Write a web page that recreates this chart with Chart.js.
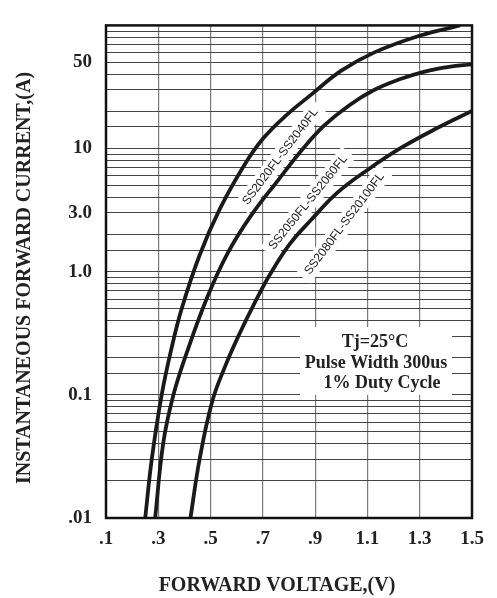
<!DOCTYPE html>
<html>
<head>
<meta charset="utf-8">
<script src="https://cdn.jsdelivr.net/npm/chart.js@4.4.1/dist/chart.umd.min.js"></script>
<style>
  html, body { margin: 0; padding: 0; background: #fff; }
  #wrap { width: 497px; height: 598px; }
</style>
</head>
<body>
<div id="wrap"><canvas id="chartCanvas"></canvas></div>
<script>
// axis ticks
const xTicks = [0.1, 0.3, 0.5, 0.7, 0.9, 1.1, 1.3, 1.5];
const xTickLabels = [".1", ".3", ".5", ".7", ".9", "1.1", "1.3", "1.5"];
const yTicks = [0.01, 0.1, 1, 3, 10, 50];
const yTickLabels = [".01", "0.1", "1.0", "3.0", "10", "50"];

// curves (V, A)
const v2040 = [0.250, 0.275, 0.313, 0.352, 0.390, 0.458, 0.535, 0.627, 0.700, 0.788, 0.885, 1.000, 1.127, 1.296, 1.454];
const i2040 = [0.01, 0.030, 0.1, 0.246, 0.505, 1.36, 3.22, 7.23, 12.0, 18.5, 27.4, 42.9, 60.4, 82.0, 100];

const v2060 = [0.288, 0.319, 0.358, 0.408, 0.485, 0.565, 0.654, 0.758, 0.854, 0.935, 1.031, 1.127, 1.223, 1.319, 1.412, 1.500];
const i2060 = [0.01, 0.0406, 0.1, 0.217, 0.604, 1.41, 2.84, 5.52, 10.0, 15.4, 22.5, 30.0, 36.5, 42.2, 46.1, 48.3];

const v20100 = [0.423, 0.458, 0.506, 0.556, 0.608, 0.662, 0.727, 0.804, 0.885, 0.985, 1.096, 1.231, 1.365, 1.500];
const i20100 = [0.01, 0.030, 0.088, 0.171, 0.305, 0.523, 0.948, 1.69, 2.64, 4.38, 6.61, 10.2, 14.6, 20.2];

const seriesNames = ["SS2020FL-SS2040FL", "SS2050FL-SS2060FL", "SS2080FL-SS20100FL"];
const noteLines = ["Tj=25°C", "Pulse Width 300us", "1% Duty Cycle"];
const xTitle = "FORWARD VOLTAGE,(V)";
const yTitle = "INSTANTANEOUS FORWARD CURRENT,(A)";

const toPoints = (xs, ys) => xs.map((x, i) => ({ x: x, y: ys[i] }));

// where the curve names sit, in data units
const nameSpots = [
  { x: 0.767, y: 8.6, angle: -53 },
  { x: 0.873, y: 3.65, angle: -51 },
  { x: 1.012, y: 2.45, angle: -53 }
];

const overlay = {
  id: "overlay",
  beforeDatasetsDraw(chart) {
    const { ctx, scales: { x, y } } = chart;
    ctx.save();
    // curve names
    ctx.font = "12px 'Liberation Sans', Arial, sans-serif";
    ctx.textAlign = "center";
    ctx.textBaseline = "middle";
    seriesNames.forEach((name, i) => {
      const s = nameSpots[i];
      const w = ctx.measureText(name).width;
      ctx.save();
      ctx.translate(x.getPixelForValue(s.x), y.getPixelForValue(s.y));
      ctx.rotate(s.angle * Math.PI / 180);
      ctx.fillStyle = "#fff";
      ctx.fillRect(-w / 2 - 6, -9, w + 12, 18);
      ctx.fillStyle = "#222";
      ctx.fillText(name, 0, 0);
      ctx.restore();
    });
    // conditions box
    ctx.fillStyle = "#fff";
    ctx.fillRect(300, 327, 152, 68);
    ctx.fillStyle = "#222";
    ctx.font = "bold 18px 'Liberation Serif', 'Times New Roman', serif";
    ctx.textBaseline = "alphabetic";
    ctx.fillText(noteLines[0], 375, 347);
    ctx.fillText(noteLines[1], 376, 368);
    ctx.fillText(noteLines[2], 382, 388);
    ctx.restore();
  },
  afterDatasetsDraw(chart) {
    const { ctx, chartArea: a } = chart;
    ctx.save();
    ctx.strokeStyle = "#111";
    ctx.lineWidth = 2.5;
    ctx.strokeRect(a.left, a.top, a.right - a.left, a.bottom - a.top);
    ctx.restore();
  },
  afterDraw(chart) {
    const { ctx } = chart;
    ctx.save();
    ctx.fillStyle = "#222";
    ctx.font = "bold 20px 'Liberation Serif', 'Times New Roman', serif";
    ctx.textAlign = "center";
    ctx.textBaseline = "alphabetic";
    ctx.fillText(xTitle, 277, 591);
    ctx.translate(30, 278);
    ctx.rotate(-Math.PI / 2);
    ctx.fillText(yTitle, 0, 0);
    ctx.restore();
  }
};

const lineStyle = {
  borderColor: "#1a1a1a",
  borderWidth: 3.8,
  pointRadius: 0,
  fill: false,
  tension: 0.4
};

const ctx = document.getElementById("chartCanvas").getContext("2d");
const chartInstance = new Chart(ctx, {
  type: "line",
  data: {
    datasets: [
      Object.assign({ label: seriesNames[0], data: toPoints(v2040, i2040) }, lineStyle),
      Object.assign({ label: seriesNames[1], data: toPoints(v2060, i2060) }, lineStyle),
      Object.assign({ label: seriesNames[2], data: toPoints(v20100, i20100) }, lineStyle)
    ]
  },
  options: {
    responsive: true,
    maintainAspectRatio: false,
    animation: false,
    layout: { padding: { top: 6, right: 25, left: 0, bottom: 0 } },
    plugins: { legend: { display: false }, tooltip: { enabled: false } },
    scales: {
      x: {
        type: "linear",
        min: 0.1,
        max: 1.5,
        afterBuildTicks: (s) => { s.ticks = xTicks.map(v => ({ value: v })); },
        afterFit: (s) => { s.height = 80; },
        grid: { color: "#7a7a7a", lineWidth: 1.2, drawTicks: false },
        border: { display: false },
        ticks: {
          padding: 10,
          color: "#222",
          maxRotation: 0,
          autoSkip: false,
          font: { family: "'Liberation Serif', 'Times New Roman', serif", size: 19, weight: "bold" },
          callback: (v, i) => xTickLabels[i]
        }
      },
      y: {
        type: "logarithmic",
        min: 0.01,
        max: 100,
        afterFit: (s) => { s.width = 106; },
        grid: { color: "#444", lineWidth: 1, drawTicks: false },
        border: { display: false },
        ticks: {
          padding: 14,
          color: "#222",
          autoSkip: false,
          font: { family: "'Liberation Serif', 'Times New Roman', serif", size: 19, weight: "bold" },
          callback: (v) => {
            const k = yTicks.findIndex(t => Math.abs(v - t) / t < 1e-6);
            return k >= 0 ? yTickLabels[k] : "";
          }
        }
      }
    }
  },
  plugins: [overlay]
});
</script>
</body>
</html>
